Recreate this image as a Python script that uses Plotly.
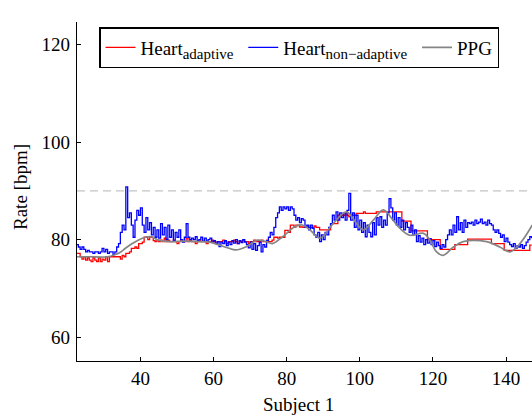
import plotly.graph_objects as go

# Sampling: heart-rate estimates every 0.5 s starting at t = 22.5
T0 = 22.5
DT = 0.5

heart_adaptive = [
    77.2, 77.2, 76.5, 76.0, 76.5, 75.8, 76.3, 75.8, 75.5, 76.3,   # 22.5
    75.8, 75.5, 76.3, 75.5, 76.0, 75.8, 76.5, 75.5, 76.5, 76.5,   # 27.5
    76.5, 76.5, 76.5, 76.5, 76.0, 76.8, 76.5, 77.2, 77.2, 77.5,   # 32.5
    78.2, 78.2, 78.5, 78.2, 79.2, 79.2, 79.5, 80.5, 80.5, 80.0,   # 37.5
    80.6, 80.5, 79.8, 79.6, 79.9, 79.6, 79.9, 79.6, 80.3, 79.6,   # 42.5
    79.9, 79.6, 79.6, 79.9, 79.6, 79.2, 79.6, 79.9, 79.6, 79.6,   # 47.5
    80.3, 79.6, 79.9, 79.6, 79.6, 79.2, 79.6, 79.9, 79.6, 79.6,   # 52.5
    79.6, 79.2, 79.6, 79.6, 79.9, 79.6, 79.2, 79.6, 79.6, 79.6,   # 57.5
    79.9, 79.6, 79.2, 79.6, 79.6, 79.6, 79.9, 79.6, 79.2, 79.6,   # 62.5
    79.6, 79.9, 79.6, 79.6, 79.2, 79.6, 79.6, 79.9, 79.6, 79.6,   # 67.5
    79.6, 79.9, 79.6, 79.6, 79.9, 79.6, 79.6, 79.9, 80.5, 80.5,   # 72.5
    80.3, 80.5, 80.5, 80.5, 81.9, 81.9, 81.5, 83.0, 83.0, 82.6,   # 77.5
    83.0, 83.0, 82.6, 82.6, 82.5, 82.5, 82.8, 82.5, 82.5, 82.5,   # 82.5
    82.8, 82.5, 82.5, 82.0, 82.0, 82.0, 82.0, 82.0, 82.0, 83.3,   # 87.5
    83.3, 83.3, 83.3, 85.0, 84.7, 85.0, 85.0, 85.3, 85.0, 84.7,   # 92.5
    85.0, 85.0, 85.0, 85.4, 85.4, 85.4, 85.4, 85.7, 85.4, 85.4,   # 97.5
    85.4, 85.4, 85.4, 85.4, 85.7, 85.7, 85.7, 85.7, 85.7, 85.7,   # 102.5
    85.7, 85.7, 85.7, 85.7, 85.7, 85.7, 85.7, 85.7, 83.8, 83.8,   # 107.5
    83.8, 83.8, 83.8, 81.8, 81.8, 81.8, 81.8, 81.8, 81.8, 81.8,   # 112.5
    81.8, 81.8, 80.0, 80.0, 80.0, 80.0, 80.0, 80.0, 80.0, 78.0,   # 117.5
    78.0, 78.0, 78.0, 78.0, 78.0, 78.0, 78.0, 79.0, 79.0, 79.0,   # 122.5
    79.0, 79.0, 79.0, 79.0, 80.1, 80.1, 80.1, 80.1, 80.1, 80.1,   # 127.5
    80.1, 80.1, 80.1, 80.1, 80.1, 80.1, 80.1, 79.2, 79.2, 79.2,   # 132.5
    79.2, 79.2, 79.2, 79.2, 77.8, 77.8, 77.8, 77.8, 77.8, 77.8,   # 137.5
    77.8, 77.8, 77.8, 77.8, 77.8, 77.8, 77.8, 77.8, 78.9, 78.9,   # 142.5
]

heart_non_adaptive = [
    79.0, 78.5, 78.0, 78.5, 78.0, 77.5, 77.8, 77.5, 77.5, 77.2,   # 22.5
    77.5, 77.5, 77.2, 77.5, 78.2, 77.5, 78.0, 77.2, 77.5, 77.5,   # 27.5
    77.0, 77.5, 78.5, 79.2, 81.5, 83.0, 82.0, 90.8, 84.5, 85.5,   # 32.5
    83.0, 80.5, 84.0, 86.0, 85.0, 86.5, 83.0, 81.5, 84.5, 82.0,   # 37.5
    83.5, 81.0, 82.5, 80.5, 82.0, 80.3, 83.3, 81.0, 82.5, 80.0,   # 42.5
    83.0, 80.5, 82.0, 79.8, 81.5, 80.5, 82.0, 80.0, 79.5, 80.5,   # 47.5
    83.3, 80.5, 80.0, 80.3, 80.0, 80.6, 79.8, 80.0, 80.5, 79.7,   # 52.5
    80.3, 79.7, 80.0, 80.3, 79.5, 79.8, 79.3, 79.6, 78.6, 79.5,   # 57.5
    79.2, 79.8, 78.8, 79.5, 79.0, 79.8, 79.3, 80.0, 79.2, 79.8,   # 62.5
    79.4, 80.0, 79.5, 79.0, 78.3, 79.5, 78.0, 79.2, 77.8, 78.8,   # 67.5
    79.5, 77.5, 79.0, 78.5, 79.8, 80.5, 81.5, 81.0, 82.5, 84.5,   # 72.5
    85.5, 86.7, 86.0, 86.7, 86.3, 86.7, 86.0, 86.7, 86.3, 85.0,   # 77.5
    84.0, 84.5, 83.5, 84.3, 84.0, 82.5, 83.0, 82.0, 83.0, 82.3,   # 82.5
    81.0, 80.5, 81.5, 79.6, 81.0, 80.0, 81.5, 81.0, 82.5, 83.3,   # 87.5
    85.0, 84.0, 85.7, 84.0, 85.5, 84.5, 85.5, 84.0, 86.0, 89.5,   # 92.5
    84.0, 85.5, 82.5, 85.0, 82.0, 84.0, 81.5, 83.5, 80.6, 83.0,   # 97.5
    81.5, 80.6, 83.5, 81.0, 84.5, 83.0, 84.7, 82.5, 84.0, 83.0,   # 102.5
    85.5, 88.4, 86.5, 84.0, 85.5, 83.0, 84.5, 82.5, 84.0, 82.0,   # 107.5
    83.5, 82.5, 81.5, 83.0, 81.0, 82.0, 79.6, 80.8, 79.5, 80.3,   # 112.5
    79.0, 80.0, 79.3, 80.2, 79.0, 79.8, 78.6, 79.5, 78.8, 78.2,   # 117.5
    79.0, 78.5, 80.0, 81.0, 82.0, 81.0, 83.0, 81.5, 84.7, 82.0,   # 122.5
    83.5, 81.5, 84.0, 82.5, 83.5, 83.3, 83.6, 83.0, 84.0, 83.3,   # 127.5
    83.6, 84.2, 83.3, 83.6, 83.0, 84.0, 83.3, 83.0, 82.0, 81.5,   # 132.5
    82.0, 81.3, 80.5, 81.0, 79.6, 80.3, 79.5, 79.0, 78.6, 79.2,   # 137.5
    78.2, 78.8, 78.5, 79.0, 78.2, 78.8, 79.5, 80.0, 80.6, 80.3,   # 142.5
]

t_heart = [T0 + DT * i for i in range(len(heart_non_adaptive))]

# PPG reference rate (smooth)
t_ppg = [22.5, 26, 31, 34, 36, 38, 40.5, 42.8, 45, 48, 52, 56, 59,
         61.5, 64, 66, 68.8, 72, 74.3, 76.1, 78.9, 82.1, 84.3, 86.5,
         89.1, 92.7, 96.4, 99.1, 101, 103.7, 106.4, 109.1, 111, 113.7,
         117.4, 119.2, 121, 122.8, 125.6, 128.3, 134.7, 138.3, 141.1,
         143.8, 147.2]
ppg = [76.5, 76.5, 76.5, 77.2, 78.3, 79.3, 80.3, 80.6, 79.9, 79.6, 79.7,
       79.6, 79.5, 78.9, 78.3, 77.9, 78.5, 79.9, 79.6, 79.2, 80.6, 82.6,
       83.0, 81.9, 80.3, 83.3, 85.7, 83.3, 82.0, 84.0, 86.1, 84.0, 82.3,
       80.9, 81.3, 79.9, 77.5, 76.8, 78.5, 79.6, 79.6, 78.5, 77.5, 79.2,
       83.0]

threshold = 90

X_RANGE = [22.64, 147.1]
Y_RANGE = [55.14, 124.6]
FONT = "Liberation Serif, Times New Roman, serif"
NBSP = "\u00a0"


def sub(text):
    return f"<sub><span style='font-size:15px'>{text}</span></sub>"


fig = go.Figure()

# reference level
fig.add_trace(go.Scatter(
    x=X_RANGE, y=[threshold, threshold], mode="lines",
    line=dict(color="#c4c4c4", width=1.2, dash="8px,5px"),
    showlegend=False, hoverinfo="skip"))

fig.add_trace(go.Scatter(
    x=t_heart, y=heart_adaptive, mode="lines", line_shape="hv",
    line=dict(color="#ff0000", width=1.3),
    name="Heart" + sub("adaptive") + NBSP))
fig.add_trace(go.Scatter(
    x=t_heart, y=heart_non_adaptive, mode="lines", line_shape="hv",
    line=dict(color="#0000ff", width=1.3),
    name="Heart" + sub("non\u2212adaptive") + NBSP))
fig.add_trace(go.Scatter(
    x=t_ppg, y=ppg, mode="lines", line_shape="spline",
    line=dict(color="#858585", width=1.7, smoothing=1.0),
    name="PPG"))

axis_common = dict(
    showgrid=False, zeroline=False, showline=True, linecolor="black",
    linewidth=1.2, ticks="inside", ticklen=4, tickcolor="black",
    tickwidth=1, tickfont=dict(family=FONT, size=19, color="black"),
)

fig.update_xaxes(range=X_RANGE, tickvals=[40, 60, 80, 100, 120, 140],
                 **axis_common)
fig.update_yaxes(range=Y_RANGE, tickvals=[60, 80, 100, 120],
                 ticklabelstandoff=2, **axis_common)

W, H = 532, 415
ML, MR, MT, MB = 77, 0, 22, 54
pw, ph = W - ML - MR, H - MT - MB

fig.add_annotation(text="Subject 1", x=(298 - ML) / pw, y=(H - MB - 404) / ph,
                   xref="paper", yref="paper", showarrow=False,
                   xanchor="center", yanchor="middle",
                   font=dict(family=FONT, size=19, color="black"))
fig.add_annotation(text="Rate [bpm]", textangle=-90,
                   x=(20 - ML) / pw, y=(H - MB - 187) / ph,
                   xref="paper", yref="paper", showarrow=False,
                   xanchor="center", yanchor="middle",
                   font=dict(family=FONT, size=19, color="black"))

fig.update_layout(
    width=W, height=H,
    margin=dict(l=ML, r=MR, t=MT, b=MB),
    plot_bgcolor="white", paper_bgcolor="white",
    font=dict(family=FONT, size=19, color="black"),
    legend=dict(
        orientation="h", x=(99 - ML) / pw, y=(H - MB - 27) / ph,
        xanchor="left", yanchor="top",
        bordercolor="black", borderwidth=1.5, bgcolor="white",
        font=dict(family=FONT, size=19, color="black"),
        itemwidth=30, tracegroupgap=0,
    ),
)

fig.write_html("out.html")
